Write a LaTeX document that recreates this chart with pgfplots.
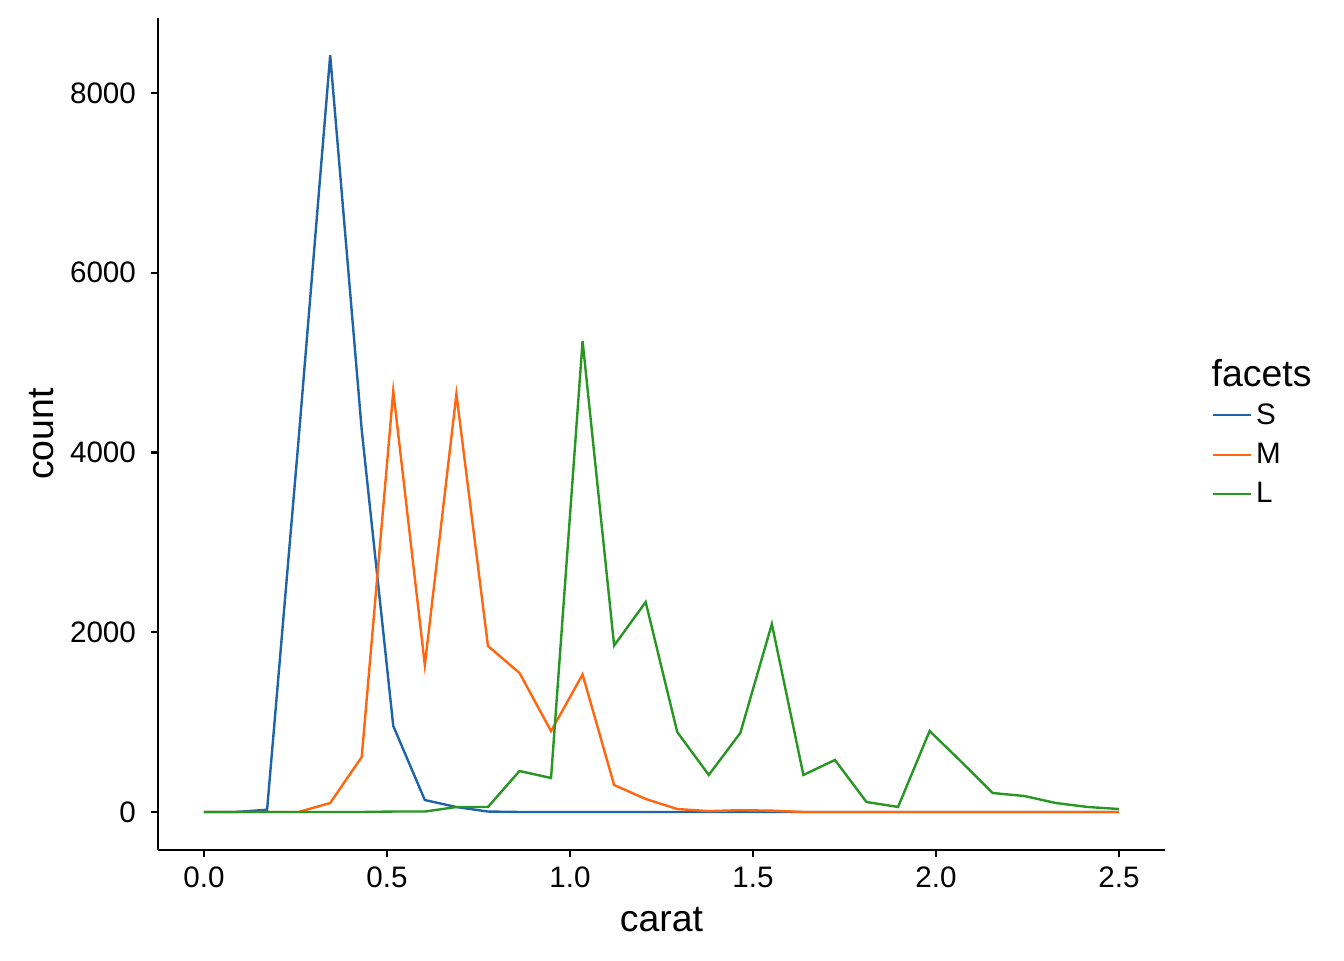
\documentclass[border=0pt]{standalone}
\usepackage{pgfplots}
\pgfplotsset{compat=1.18}
\usepackage{fontspec}
\setmainfont{Liberation Sans}
\definecolor{cS}{RGB}{31,99,168}
\definecolor{cM}{RGB}{255,102,13}
\definecolor{cL}{RGB}{40,150,35}
\begin{document}
\begin{tikzpicture}
\useasboundingbox (-79pt,-55pt) rectangle (593pt,425pt);
\begin{axis}[
  scale only axis,
  width=503.5pt, height=416pt,
  xmin=-0.1257, xmax=2.626,
  ymin=-423, ymax=8834,
  axis x line*=bottom, axis y line*=left,
  axis line style={line width=1.2pt, black},
  every tick/.style={line width=1.2pt, black},
  tick align=outside, major tick length=3.5pt,
  xtick={0,0.5,1,1.5,2,2.5},
  ytick={0,2000,4000,6000,8000},
  /pgf/number format/assume math mode=true,
  ticklabel style={font=\fontsize{14.8}{17}\selectfont, text=black},
  xticklabel style={yshift=-1.5pt, /pgf/number format/.cd, fixed, fixed zerofill, precision=1},
  yticklabel style={xshift=-4pt, /pgf/number format/.cd, fixed, 1000 sep={}},
  xlabel={carat}, ylabel={count},
  every axis y label/.style={at={([xshift=-58pt]rel axis cs:0,0.5)}, rotate=90, anchor=center, font=\fontsize{18.7}{22}\selectfont},
  every axis x label/.style={at={([yshift=-35pt]rel axis cs:0.5,0)}, anchor=center, font=\fontsize{18.7}{22}\selectfont},
  legend style={at={(1.046,0.542)}, anchor=north west, draw=none, fill=none,
    font=\fontsize{14.8}{17}\selectfont, row sep=4pt, inner sep=0pt},
  legend cell align=left,
  legend image code/.code={\path (0pt,0pt) -- (19pt,0pt);\draw[#1] (0pt,0pt) -- (15pt,0pt);},
  clip=false,
]
\addplot[cS, line width=1.2pt] coordinates {
(0,0)(0.0862,0)(0.1724,25)(0.2586,4150)(0.3448,8420)(0.4310,4250)(0.5172,957)(0.6034,133)(0.6897,55)(0.7759,5)(0.8621,0)(0.9483,0)(1.0345,0)(1.1207,0)(1.2069,0)(1.2931,0)(1.3793,0)(1.4655,0)(1.5517,0)(1.6379,0)(1.7241,0)(1.8103,0)(1.8966,0)(1.9828,0)(2.0690,0)(2.1552,0)(2.2414,0)(2.3276,0)(2.4138,0)(2.5,0)};
\addlegendentry{S}
\addplot[cM, line width=1.2pt] coordinates {
(0,0)(0.0862,0)(0.1724,0)(0.2586,0)(0.3448,100)(0.4310,612)(0.5172,4684)(0.6034,1635)(0.6897,4650)(0.7759,1847)(0.8621,1547)(0.9483,900)(1.0345,1530)(1.1207,300)(1.2069,145)(1.2931,33)(1.3793,10)(1.4655,20)(1.5517,15)(1.6379,0)(1.7241,0)(1.8103,0)(1.8966,0)(1.9828,0)(2.0690,0)(2.1552,0)(2.2414,0)(2.3276,0)(2.4138,0)(2.5,0)};
\addlegendentry{M}
\addplot[cL, line width=1.2pt] coordinates {
(0,0)(0.0862,0)(0.1724,0)(0.2586,0)(0.3448,0)(0.4310,0)(0.5172,5)(0.6034,5)(0.6897,55)(0.7759,55)(0.8621,456)(0.9483,378)(1.0345,5240)(1.1207,1852)(1.2069,2336)(1.2931,890)(1.3793,412)(1.4655,879)(1.5517,2092)(1.6379,412)(1.7241,579)(1.8103,111)(1.8966,56)(1.9828,901)(2.0690,560)(2.1552,211)(2.2414,178)(2.3276,100)(2.4138,56)(2.5,33)};
\addlegendentry{L}
\node[anchor=west, font=\fontsize{18.7}{22}\selectfont, inner sep=0pt] at (rel axis cs:1.046,0.573) {facets};
\end{axis}
\end{tikzpicture}
\end{document}
